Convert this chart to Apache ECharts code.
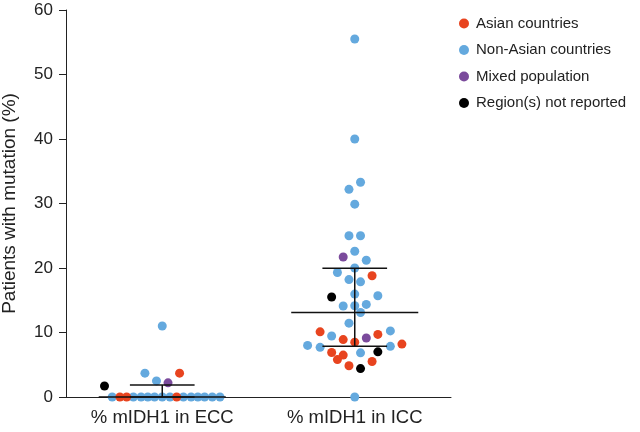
<!DOCTYPE html>
<html>
<head>
<meta charset="utf-8">
<script src="https://cdn.jsdelivr.net/npm/echarts@6/dist/echarts.min.js"></script>
<style>
html,body{margin:0;padding:0;background:#fff;}
#chart{width:640px;height:432px;}
</style>
</head>
<body>
<div id="chart"></div>
<script>
// Category names (group 1 = ECC, group 2 = ICC)
const categories = ['% mIDH1 in ECC', '% mIDH1 in ICC'];
const seriesNames = ['Asian countries', 'Non-Asian countries', 'Mixed population', 'Region(s) not reported'];
const yTicks = [0, 10, 20, 30, 40, 50, 60];

// Points: [group, swarm offset (x-axis units), % patients with mutation]
const asian = [
  [1, -0.22, 0], [1, -0.185, 0], [1, 0.075, 0], [1, 0.09, 3.7],
  [2, 0.09, 18.8], [2, -0.18, 10.1], [2, -0.06, 8.9], [2, 0.12, 9.7], [2, 0, 8.5],
  [2, 0.245, 8.2], [2, -0.12, 6.9], [2, -0.06, 6.5], [2, -0.09, 5.8], [2, -0.03, 4.85], [2, 0.09, 5.5]
];
const nonAsian = [
  [1, -0.26, 0], [1, -0.15, 0], [1, -0.11, 0], [1, -0.075, 0], [1, -0.04, 0], [1, 0.0, 0],
  [1, 0.04, 0], [1, 0.11, 0], [1, 0.15, 0], [1, 0.185, 0], [1, 0.22, 0], [1, 0.26, 0], [1, 0.30, 0],
  [1, 0, 11.0], [1, -0.09, 3.7], [1, -0.03, 2.5],
  [2, 0, 55.5], [2, 0, 40.0], [2, 0.03, 33.3], [2, -0.03, 32.2], [2, 0, 29.9],
  [2, -0.03, 25.0], [2, 0.03, 25.0], [2, 0, 22.6], [2, 0.06, 21.2], [2, -0.09, 19.3],
  [2, 0, 20.0], [2, -0.03, 18.2], [2, 0.03, 17.85], [2, 0, 15.95], [2, 0.12, 15.7],
  [2, -0.06, 14.1], [2, 0, 14.15], [2, 0.06, 14.35], [2, 0.03, 13.1], [2, -0.03, 11.45],
  [2, -0.12, 9.45], [2, 0.185, 10.25], [2, -0.245, 8.0], [2, -0.18, 7.7], [2, 0.185, 7.85],
  [2, 0.03, 6.85], [2, 0, 0]
];
const mixed = [
  [1, 0.03, 2.2],
  [2, -0.06, 21.7], [2, 0.06, 9.15]
];
const notReported = [
  [1, -0.30, 1.7],
  [2, -0.12, 15.5], [2, 0.12, 7.0], [2, 0.03, 4.4]
];

// Median and interquartile range per group: [group, median, Q1, Q3]
const medianIQR = [
  [1, 0, 0, 1.86],
  [2, 13.1, 7.85, 19.95]
];

const colors = ['#e8441f', '#64a9de', '#7b4b9c', '#000000'];
const toXY = arr => arr.map(p => [p[0] + p[1], p[2]]);
const font = '"Liberation Sans", Arial, Helvetica, sans-serif';

const chart = echarts.init(document.getElementById('chart'), null, {renderer: 'canvas'});

function scatter(name, arr, color, z) {
  return {
    name: name,
    type: 'scatter',
    data: toXY(arr),
    symbol: 'circle',
    symbolSize: 9,
    itemStyle: {color: color, opacity: 1},
    emphasis: {disabled: true},
    z: z
  };
}

const option = {
  animation: false,
  backgroundColor: '#ffffff',
  color: colors,
  grid: {left: 66, right: 189, top: 10, bottom: 35, containLabel: false, outerBoundsMode: 'none'},
  legend: {
    orient: 'vertical',
    left: 454,
    top: 11,
    itemWidth: 10,
    itemHeight: 10,
    itemGap: 11.5,
    icon: 'circle',
    data: seriesNames,
    textStyle: {fontSize: 15, color: '#222', fontFamily: font, padding: [0, 0, 0, 2]}
  },
  xAxis: {
    type: 'value',
    min: 0.5,
    max: 2.5,
    axisLine: {show: true, lineStyle: {color: '#222', width: 1}},
    axisTick: {show: false},
    splitLine: {show: false},
    axisLabel: {
      customValues: [1, 2],
      formatter: v => categories[Math.round(v) - 1] || '',
      fontSize: 18.5,
      color: '#222',
      fontFamily: font,
      margin: 11
    }
  },
  yAxis: {
    type: 'value',
    min: yTicks[0],
    max: yTicks[yTicks.length - 1],
    interval: 10,
    name: 'Patients with mutation (%)',
    nameLocation: 'middle',
    nameGap: 47,
    nameTextStyle: {fontSize: 19, color: '#222', fontFamily: font},
    axisLine: {show: true, lineStyle: {color: '#222', width: 1}},
    axisTick: {show: true, length: 7, lineStyle: {color: '#222'}},
    splitLine: {show: false},
    axisLabel: {fontSize: 17, color: '#222', fontFamily: font, margin: 13}
  },
  series: [
    scatter(seriesNames[1], nonAsian, colors[1], 2),
    scatter(seriesNames[0], asian, colors[0], 3),
    scatter(seriesNames[2], mixed, colors[2], 4),
    scatter(seriesNames[3], notReported, colors[3], 4),
    {
      type: 'custom',
      name: 'median-iqr',
      data: medianIQR,
      z: 10,
      silent: true,
      encode: {x: 0, y: 1},
      renderItem: function (params, api) {
        const g = api.value(0), med = api.value(1), lo = api.value(2), hi = api.value(3);
        const style = {stroke: '#111', lineWidth: 1.5};
        const seg = (x1, y1, x2, y2) => {
          const a = api.coord([x1, y1]), b = api.coord([x2, y2]);
          return {type: 'line', shape: {x1: a[0], y1: a[1], x2: b[0], y2: b[1]}, style: style};
        };
        return {
          type: 'group',
          children: [
            seg(g - 0.33, med, g + 0.33, med),
            seg(g - 0.168, lo, g + 0.168, lo),
            seg(g - 0.168, hi, g + 0.168, hi),
            seg(g, lo, g, hi)
          ]
        };
      }
    }
  ]
};
chart.setOption(option);
</script>
</body>
</html>
